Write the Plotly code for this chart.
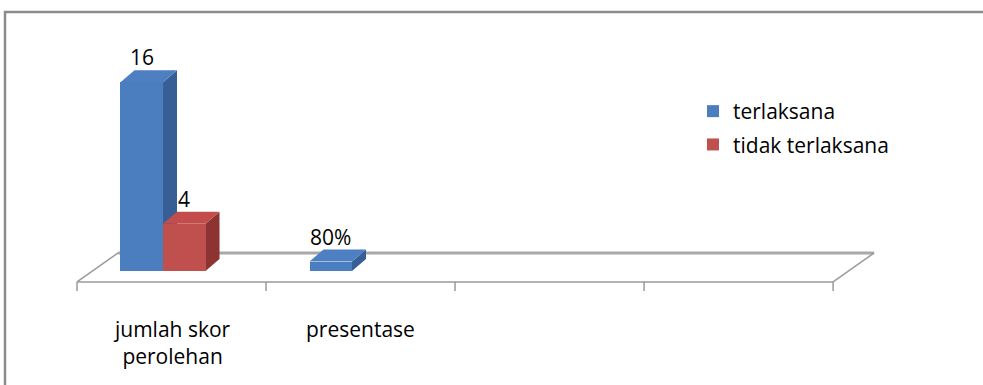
import plotly.graph_objects as go

# ---- data -------------------------------------------------------------
categories = ["jumlah skor<br>perolehan", "presentase", "", ""]
series_names = ["terlaksana", "tidak terlaksana"]
terlaksana = [16, 0.8]
tidak_terlaksana = [4, None]
terlaksana_labels = ["16", "80%"]
tidak_terlaksana_labels = ["4", None]

# ---- look & geometry (data units) -------------------------------------
W, H = 983, 385
ML, MR, MT, MB = 60, 83, 40, 85
PW, PH = W - ML - MR, H - MT - MB
X_RANGE = [-0.59, 3.854]
Y_RANGE = [-2.458, 19.576]

BAR_W = 0.225
OFFSETS = [-0.27, -0.045]
DEPTH_X = 0.074      # sideways shift of the bar's back faces
DEPTH_Y = 1.02       # upward shift of the bar's back faces
FLOOR_FRONT = -0.93
FLOOR_BACK = 1.53
FLOOR_DX = 0.217
TICK_LEN = 0.76

FONT = "Open Sans"
FONT_SIZE = 21

COLORS = [
    dict(front="#4a7ebf", side="#375f96", top="#4d7fc2"),
    dict(front="#c0504d", side="#8d3432", top="#c24d4a"),
]

series_values = [terlaksana, tidak_terlaksana]
series_labels = [terlaksana_labels, tidak_terlaksana_labels]


def paper_x(px):
    return (px - ML) / PW


def paper_y(py):
    return (H - MB - py) / PH


fig = go.Figure()
shapes = []
annotations = []

# chart frame: left and top edges as one open path (the rest is off-page)
frame_path = (f"M{paper_x(5)},{paper_y(H + 5)} L{paper_x(5)},{paper_y(12)} "
              f"L{paper_x(W + 5)},{paper_y(12)}")
shapes.append(dict(type="path", xref="paper", yref="paper", path=frame_path,
                   line=dict(color="#8c8c8c", width=2.5),
                   fillcolor="rgba(0,0,0,0)", layer="below"))

# 3-D floor
n_cat = len(categories)
left, right = -0.5, n_cat - 0.5
floor_line = dict(color="#9a9a9a", width=1.5)
shapes += [
    dict(type="line", xref="x", yref="y", x0=left + FLOOR_DX, y0=FLOOR_BACK,
         x1=right + FLOOR_DX, y1=FLOOR_BACK,
         line=dict(color="#a8a8a8", width=3), layer="below"),
    dict(type="line", xref="x", yref="y", x0=left, y0=FLOOR_FRONT,
         x1=left + FLOOR_DX, y1=FLOOR_BACK, line=floor_line, layer="below"),
    dict(type="line", xref="x", yref="y", x0=right, y0=FLOOR_FRONT,
         x1=right + FLOOR_DX, y1=FLOOR_BACK, line=floor_line, layer="below"),
    dict(type="line", xref="x", yref="y", x0=left, y0=FLOOR_FRONT,
         x1=right, y1=FLOOR_FRONT, line=floor_line, layer="below"),
]
for k in range(n_cat + 1):
    xb = left + k
    shapes.append(dict(type="line", xref="x", yref="y", x0=xb, x1=xb,
                       y0=FLOOR_FRONT, y1=FLOOR_FRONT - TICK_LEN,
                       line=floor_line, layer="below"))

# bars: front faces as bar traces, side and top faces as shapes
for s, (name, vals, labs, col, off) in enumerate(
        zip(series_names, series_values, series_labels, COLORS, OFFSETS)):
    xs = list(range(len(vals)))
    fig.add_trace(go.Bar(
        name=name, x=xs, y=vals, offset=off, width=BAR_W,
        marker=dict(color=col["front"], line=dict(width=0)),
        legendgroup=name, hoverinfo="skip",
    ))
    for i, v in enumerate(vals):
        if v is None:
            continue
        x0 = i + off
        x1 = x0 + BAR_W
        side = (f"M{x1},0 L{x1 + DEPTH_X},{DEPTH_Y} L{x1 + DEPTH_X},{v + DEPTH_Y} "
                f"L{x1},{v} Z")
        top = (f"M{x0},{v} L{x1},{v} L{x1 + DEPTH_X},{v + DEPTH_Y} "
               f"L{x0 + DEPTH_X},{v + DEPTH_Y} Z")
        shapes.append(dict(type="path", xref="x", yref="y", path=side,
                           fillcolor=col["side"], line=dict(width=0),
                           layer="below"))
        shapes.append(dict(type="path", xref="x", yref="y", path=top,
                           fillcolor=col["top"], line=dict(width=0),
                           layer="below"))
        if labs[i]:
            annotations.append(dict(
                x=x0 + BAR_W / 2, y=v + DEPTH_Y, xref="x", yref="y",
                text=labs[i], showarrow=False, yanchor="bottom", yshift=-3,
                font=dict(family=FONT, size=FONT_SIZE, color="#000000"),
            ))

# category labels under the floor
for i, c in enumerate(categories):
    if c:
        annotations.append(dict(
            x=i, y=paper_y(313), xref="x", yref="paper", text=c,
            showarrow=False, yanchor="top", align="center",
            font=dict(family=FONT, size=FONT_SIZE, color="#000000"),
        ))

fig.update_layout(
    width=W, height=H,
    margin=dict(l=ML, r=MR, t=MT, b=MB, pad=0),
    paper_bgcolor="#ffffff", plot_bgcolor="rgba(0,0,0,0)",
    barmode="overlay", bargap=0,
    xaxis=dict(range=X_RANGE, visible=False, fixedrange=True),
    yaxis=dict(range=Y_RANGE, visible=False, fixedrange=True),
    shapes=shapes, annotations=annotations,
    showlegend=True,
    legend=dict(
        x=paper_x(693), y=paper_y(91),
        xanchor="left", yanchor="top", traceorder="grouped",
        tracegroupgap=3, bgcolor="rgba(0,0,0,0)", borderwidth=0,
        font=dict(family=FONT, size=FONT_SIZE, color="#000000"),
        itemclick=False, itemdoubleclick=False,
    ),
    font=dict(family=FONT, size=FONT_SIZE),
)

fig.write_html("out.html", config={"displayModeBar": False})
